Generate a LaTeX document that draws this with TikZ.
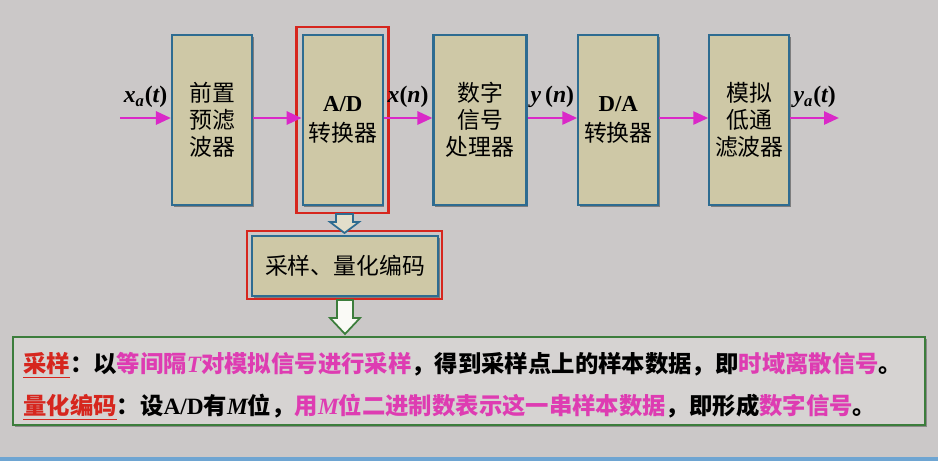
\documentclass[tikz,border=0pt]{standalone}
\usepackage{fontspec}
\setmainfont{Liberation Serif}
\newfontfamily\cjk{Noto Sans CJK SC}
\usetikzlibrary{arrows.meta,positioning,shadows}
\definecolor{slidebg}{RGB}{203,200,200}
\definecolor{notebg}{RGB}{214,211,210}
\definecolor{boxfill}{RGB}{206,200,166}
\definecolor{boxline}{RGB}{46,108,145}
\definecolor{framered}{RGB}{214,38,30}
\definecolor{sigpink}{RGB}{218,40,200}
\definecolor{txtpink}{RGB}{222,60,178}
\definecolor{notegreen}{RGB}{60,125,60}
\definecolor{edgeblue}{RGB}{110,165,210}
\newcommand{\pk}[1]{\textcolor{txtpink}{#1}}
\newcommand{\rd}[1]{\textcolor{framered}{\underline{#1}}}
\newcommand{\lat}[1]{{\rmfamily\bfseries #1}}
\newcommand{\var}[1]{{\rmfamily\itshape #1}}

\begin{document}
\begin{tikzpicture}
	[x=0.02cm,y=-0.02cm,
	block/.style={draw=boxline,line width=1.2pt,fill=boxfill,minimum width=1.6cm,minimum height=3.4cm,inner sep=0pt,align=center,
		font=\fontsize{13}{15.5}\selectfont\cjk,drop shadow={shadow xshift=1pt,shadow yshift=-1pt,opacity=.6,fill=black!70}},
	redframe/.style={draw=framered,line width=1.6pt,inner sep=0pt,fill=none},
	sig/.style={draw=sigpink,line width=1.6pt,-{Triangle[length=0.3cm,width=0.26cm]}},
	siglabel/.style={font=\fontsize{13.5}{15}\selectfont\bfseries\itshape,inner sep=1pt},
	noteline/.style={anchor=west,inner sep=0pt,font=\fontsize{13.3}{16}\selectfont\cjk\bfseries}]
	
	\fill[slidebg] (0,0) rectangle (938,461);
	\useasboundingbox (0,0) rectangle (938,461);
	\fill[edgeblue] (0,457) rectangle (938,461);
	
	\node[block] (pre) at (212,120) {前置\\预滤\\波器};
	\node[block] (ad) at (342.7,120) {\lat{A/D}\\[2pt]转换器};
	\node[redframe,minimum width=1.84cm,minimum height=3.72cm] (adred) at (342.2,120) {};
	\node[block,minimum width=1.86cm] (dsp) at (480,120) {数字\\信号\\处理器};
	\node[block] (da) at (618.3,120) {\lat{D/A}\\[2pt]转换器};
	\node[block] (lpf) at (749.3,120) {模拟\\低通\\滤波器};
	
	\coordinate (in) at (120,118);
	\coordinate (out) at (839,118);
	
	\draw[sig] (in) to node[siglabel,above=4pt] {x\textsubscript{a}\upshape(\itshape t\upshape)} (pre.west |- in);
	\draw[sig] (pre.east |- in) -- (ad.west |- in);
	\draw[sig] (ad.east |- in) to node[siglabel,above=4pt] {x\upshape(\itshape n\upshape)} (dsp.west |- in);
	\draw[sig] (dsp.east |- in) to node[siglabel,above=4pt] {y\upshape\,(\itshape n\upshape)} (da.west |- in);
	\draw[sig] (da.east |- in) -- (lpf.west |- in);
	\draw[sig] (lpf.east |- out) to node[siglabel,above=4pt] {y\textsubscript{a}\upshape(\itshape t\upshape)} (out);
	
	\node[redframe,minimum width=3.9cm,minimum height=1.36cm] (smpred) at (344.5,265) {};
	\node[block,minimum width=3.72cm,minimum height=1.2cm] (smp) at (345,266) {采样、量化编码};
	
	\draw[boxline,fill=boxfill!60!white,line width=1pt] (336,214) -- (336,222) -- (330,222) -- (344.5,233) -- (359,222) -- (353,222) -- (353,214) -- cycle;
	\draw[notegreen,fill=white!90!boxfill,line width=1pt] (337,300) -- (337,318) -- (330,318) -- (345,334) -- (360,318) -- (353,318) -- (353,300) -- cycle;
	
	\node[draw=notegreen,line width=1.6pt,fill=notebg,minimum width=18.24cm,minimum height=1.76cm,inner sep=0pt,
	drop shadow={shadow xshift=1pt,shadow yshift=-1pt,opacity=.5,fill=black!70}] (note) at (469,381) {};
	\node[noteline] (line1) at (23,365) {\rd{采样}：以\pk{等间隔\var{T}对模拟信号进行采样}，得到采样点上的样本数据，即\pk{时域离散信号}。};
	\node[noteline] (line2) at (23,407) {\rd{量化编码}：设\lat{A/D}有\var{M}位，\pk{用\var{M}位二进制数表示这一串样本数据}，即形成\pk{数字信号}。};
	
\end{tikzpicture}
\end{document}
